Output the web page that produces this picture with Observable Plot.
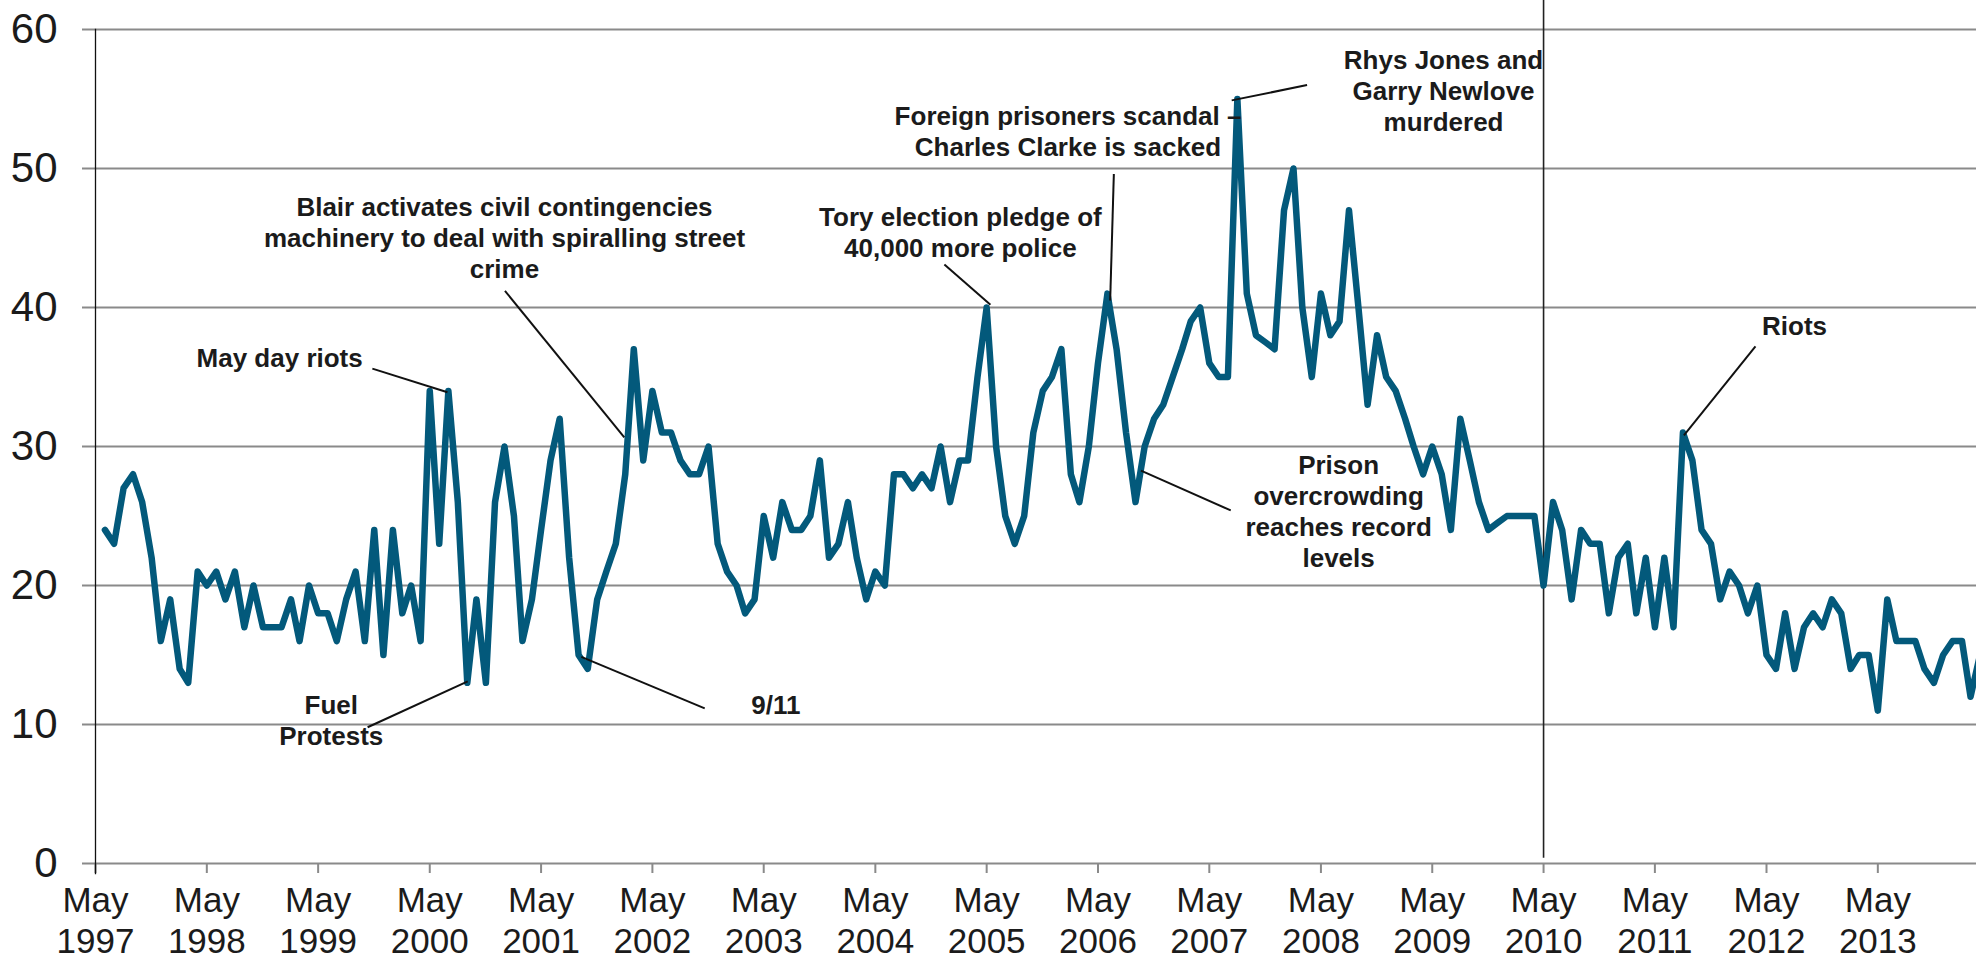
<!DOCTYPE html>
<html>
<head>
<meta charset="utf-8">
<script src="https://cdn.jsdelivr.net/npm/d3@7"></script>
<script src="https://cdn.jsdelivr.net/npm/@observablehq/plot@0.6"></script>
<style>
  html, body { margin: 0; padding: 0; background: #fff; }
  #chart svg { display: block; }
</style>
</head>
<body>
<div id="chart"></div>
<script>
// ---- data (monthly values, first point = June 1997) ----
const seriesStart = { year: 1997, month: 5 }; // June 1997 (0-based month)
const values = [
  24, 23, 27, 28, 26, 22, 16, 19, 14, 13,
  21, 20, 21, 19, 21, 17, 20, 17, 17, 17,
  19, 16, 20, 18, 18, 16, 19, 21, 16, 24,
  15, 24, 18, 20, 16, 34, 23, 34, 26, 13,
  19, 13, 26, 30, 25, 16, 19, 24, 29, 32,
  22, 15, 14, 19, 21, 23, 28, 37, 29, 34,
  31, 31, 29, 28, 28, 30, 23, 21, 20, 18,
  19, 25, 22, 26, 24, 24, 25, 29, 22, 23,
  26, 22, 19, 21, 20, 28, 28, 27, 28, 27,
  30, 26, 29, 29, 35, 40, 30, 25, 23, 25,
  31, 34, 35, 37, 28, 26, 30, 36, 41, 37,
  31, 26, 30, 32, 33, 35, 37, 39, 40, 36,
  35, 35, 55, 41, 38, 37.5, 37, 47, 50, 40,
  35, 41, 38, 39, 47, 40, 33, 38, 35, 34,
  32, 30, 28, 30, 28, 24, 32, 29, 26, 24,
  24.5, 25, 25, 25, 25, 20, 26, 24, 19, 24,
  23, 23, 18, 22, 23, 18, 22, 17, 22, 17,
  31, 29, 24, 23, 19, 21, 20, 18, 20, 15,
  14, 18, 14, 17, 18, 17, 19, 18, 14, 15,
  15, 11, 19, 16, 16, 16, 14, 13, 15, 16,
  16, 12, 15
];
const tickYears = [1997, 1998, 1999, 2000, 2001, 2002, 2003, 2004, 2005,
                   2006, 2007, 2008, 2009, 2010, 2011, 2012, 2013];
const tickMonthName = "May";
const yTicks = [0, 10, 20, 30, 40, 50, 60];
const markerMonth = { year: 2010, month: 4 }; // May 2010 vertical line

// annotations: m = months after May 1997, v = value at baseline of last line
const annotations = [
  { label: "Blair activates civil contingencies\nmachinery to deal with spiralling street\ncrime", m: 44.0, v: 42.1 },
  { label: "May day riots", m: 19.8, v: 35.7 },
  { label: "Fuel\nProtests", m: 25.4, v: 8.52 },
  { label: "9/11", m: 73.3, v: 10.74 },
  { label: "Tory election pledge of\n40,000 more police", m: 93.1, v: 43.6 },
  { label: "Foreign prisoners scandal –\nCharles Clarke is sacked", m: 104.7, v: 50.9 },
  { label: "Rhys Jones and\nGarry Newlove\nmurdered", m: 145.2, v: 52.7 },
  { label: "Prison\novercrowding\nreaches record\nlevels", m: 133.9, v: 21.3 },
  { label: "Riots", m: 183.0, v: 38.0 }
];
const leaders = [
  { m1: 44.05, v1: 41.2, m2: 56.9, v2: 30.65 },
  { m1: 29.8, v1: 35.6, m2: 37.9, v2: 33.9 },
  { m1: 29.3, v1: 9.8, m2: 40.05, v2: 13.1 },
  { m1: 52.3, v1: 14.86, m2: 65.6, v2: 11.16 },
  { m1: 91.4, v1: 43.1, m2: 96.4, v2: 40.2 },
  { m1: 109.7, v1: 49.6, m2: 109.3, v2: 40.5 },
  { m1: 130.5, v1: 56.0, m2: 122.4, v2: 54.9 },
  { m1: 112.6, v1: 28.27, m2: 122.3, v2: 25.4 },
  { m1: 178.8, v1: 37.2, m2: 171.1, v2: 30.8 }
];

// ---- helpers ----
const origin = { year: 1997, month: 4 }; // May 1997
function mo(m) {
  const i = Math.floor(m), f = m - i;
  const a = Date.UTC(origin.year, origin.month + i, 1);
  const b = Date.UTC(origin.year, origin.month + i + 1, 1);
  return new Date(a + f * (b - a));
}
const data = values.map((v, i) => ({
  date: new Date(Date.UTC(seriesStart.year, seriesStart.month + i, 1)),
  value: v
}));
const tickDates = tickYears.map(y => new Date(Date.UTC(y, 4, 1)));
const markerDate = new Date(Date.UTC(markerMonth.year, markerMonth.month, 1));

const font = "'Liberation Sans', Arial, Helvetica, sans-serif";
const lineColor = "#03597b";
const gridColor = "#8a8a8a";
const textColor = "#1b1b1b";

const chart = Plot.plot({
  width: 1976,
  height: 959,
  marginLeft: 95,
  marginRight: 0,
  marginTop: 29,
  marginBottom: 96,
  style: { fontFamily: font, background: "#fff", overflow: "visible" },
  x: { type: "utc", domain: [mo(0), mo(202.63)], axis: null },
  y: { type: "linear", domain: [0, 60], axis: null },
  marks: [
    // horizontal gridlines (extend left as tick stubs)
    Plot.ruleY(yTicks, { y: d => d, stroke: gridColor, strokeWidth: 2, insetLeft: -13 }),
    // x tick marks
    Plot.ruleX(tickDates, { x: d => d, y1: () => 0, y2: () => -10 / 13.9, stroke: gridColor, strokeWidth: 2 }),
    // May 2010 vertical line
    Plot.ruleX([markerDate], { x: d => d, y1: () => 0.37, y2: () => 62.1, stroke: "#222", strokeWidth: 1.6 }),
    // y axis line
    Plot.frame({ anchor: "left", stroke: "#111", strokeWidth: 1.3, insetBottom: -10 }),
    // series line
    Plot.line(data, { x: "date", y: "value", stroke: lineColor, strokeWidth: 6.5,
                      strokeLinejoin: "round", strokeLinecap: "round", clip: true }),
    // leader lines
    Plot.link(leaders, { x1: d => mo(d.m1), y1: "v1", x2: d => mo(d.m2), y2: "v2",
                         stroke: "#111", strokeWidth: 2 }),
    // annotation labels
    Plot.text(annotations, { x: d => mo(d.m), y: "v", text: "label", lineAnchor: "bottom",
                             lineHeight: 1.2, fontSize: 26, fontWeight: "bold", fill: textColor,
                             textAnchor: "middle" }),
    // y tick labels
    Plot.text(yTicks, { x: () => mo(0), y: d => d, text: d => String(d), textAnchor: "end", dx: -38,
                        fontSize: 42, fill: textColor }),
    // x tick labels
    Plot.text(tickDates, { x: d => d, y: () => 0, text: d => `${tickMonthName}\n${d.getUTCFullYear()}`,
                           lineAnchor: "bottom", lineHeight: 1.17, dy: 89, fontSize: 35,
                           fill: textColor, textAnchor: "middle" })
  ]
});
document.getElementById("chart").appendChild(chart);
</script>
</body>
</html>
